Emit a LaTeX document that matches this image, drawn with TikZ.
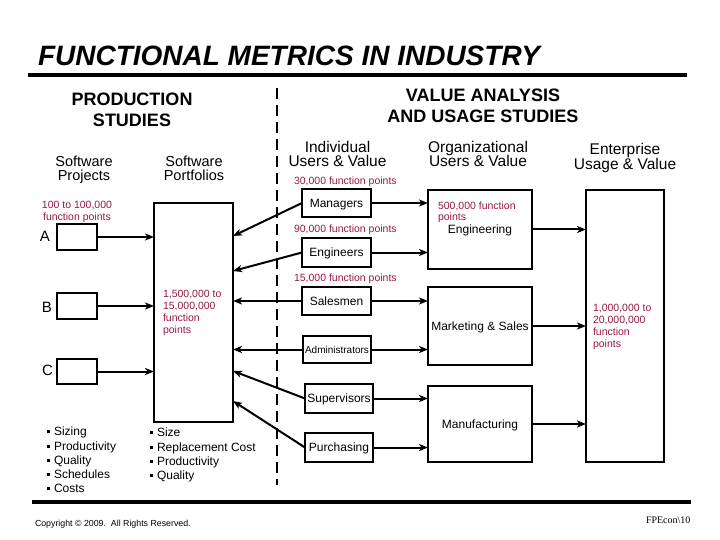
\documentclass[tikz,border=0pt]{standalone}
\usepackage{fontspec}
\setmainfont{Liberation Sans}
\newfontfamily\serifx{Liberation Serif}
\usetikzlibrary{arrows.meta}
\definecolor{fpred}{RGB}{150,25,60}
\newcommand{\fsz}[2]{\fontsize{#1}{#2}\selectfont}
\newcommand{\sqb}{\rule[2.6pt]{3pt}{3pt}\hspace{4pt}}
\begin{document}
\begin{tikzpicture}[x=1pt,y=-1pt,
  every node/.style={inner sep=0pt,outer sep=0pt},
  box/.style={draw=black,line width=2pt},
  boxtxt/.style={font=\fsz{12}{14},text height=8.6pt,text depth=0pt},
  head/.style={font=\fsz{14.5}{13.5},align=center},
  headb/.style={font=\fsz{15.5}{14.5},align=center},
  headbold/.style={font=\fsz{18}{21}\bfseries,align=center},
  redtxt/.style={text=fpred,font=\fsz{10.5}{12}},
  lab/.style={font=\fsz{15}{17}},
  arr/.style={line width=2pt,-{Stealth[length=9pt,width=7pt,inset=2.5pt]}},
  rulebar/.style={line width=4pt},
  divider/.style={line width=2pt,dash pattern=on 11pt off 6pt}
]
\useasboundingbox (0,0) rectangle (720,540);

% title and rules
\node[anchor=base west,font=\fsz{28}{30}\bfseries\itshape] (title) at (38,66) {FUNCTIONAL METRICS IN INDUSTRY};
\draw[rulebar] (28,75.5) -- (687,75.5);
\draw[rulebar] (32,502) -- (691,502);
\draw[divider] (277,88) -- (277,485);

% headings
\node[headbold] (prod) at (132,110) {PRODUCTION\\STUDIES};
\node[headbold] (value) at (483,106) {VALUE ANALYSIS\\AND USAGE STUDIES};
\node[head] (hproj) at (84,170) {Software\\Projects};
\node[head] (hport) at (194,168.5) {Software\\Portfolios};
\node[headb] (hind) at (337.5,154) {Individual\\Users \& Value};
\node[headb] (horg) at (478,154) {Organizational\\Users \& Value};
\node[headb] (hent) at (625,157.8) {Enterprise\\Usage \& Value};

% red annotations
\node[redtxt,align=center] (fpA) at (77,212.3) {100 to 100,000\\function points};
\node[redtxt,anchor=base west] (fpM) at (294,185) {30,000 function points};
\node[redtxt,anchor=base west] (fpN) at (294,233) {90,000 function points};
\node[redtxt,anchor=base west] (fpS) at (294,281) {15,000 function points};
\node[redtxt,align=left,anchor=north west,font=\fsz{10.5}{11}] (fpE) at (438,202.3) {500,000 function\\points};
\node[redtxt,align=left,anchor=north west] (fpP) at (163,289.8) {1,500,000 to\\15,000,000\\function\\points};
\node[redtxt,align=left,anchor=north west,font=\fsz{10.5}{11.9}] (fpX) at (593,304.2) {1,000,000 to\\20,000,000\\function\\points};

% project boxes
\node[box,minimum width=40,minimum height=26] (A) at (77,237) {};
\node[box,minimum width=40,minimum height=26] (B) at (77,306) {};
\node[box,minimum width=40,minimum height=25] (C) at (77,371.5) {};
\node[lab] (lA) at (45,236) {A};
\node[lab] (lB) at (47,307.5) {B};
\node[lab] (lC) at (47.5,370) {C};

% portfolio box
\node[box,minimum width=79,minimum height=219] (P) at (193.5,312.5) {};

% individual users
\node[box,boxtxt,minimum width=69,minimum height=28] (M) at (336.5,203) {Managers};
\node[box,boxtxt,minimum width=69,minimum height=29] (N) at (336.5,252.5) {Engineers};
\node[box,boxtxt,minimum width=69,minimum height=28] (S) at (336.5,301) {Salesmen};
\node[box,font=\fsz{10}{12},text height=7.2pt,text depth=0pt,minimum width=68,minimum height=27] (Ad) at (337,349.5) {Administrators};
\node[box,boxtxt,minimum width=68,minimum height=29] (Su) at (339,398.5) {Supervisors};
\node[box,boxtxt,minimum width=68,minimum height=29] (Pu) at (339,447.5) {Purchasing};

% organizational
\node[box,boxtxt,minimum width=104,minimum height=79] (Eg) at (480,229.5) {Engineering};
\node[box,boxtxt,minimum width=104,minimum height=78] (Mk) at (480,326) {Marketing \& Sales};
\node[box,boxtxt,minimum width=104,minimum height=76] (Mf) at (480,424) {Manufacturing};

% enterprise
\node[box,minimum width=78,minimum height=272] (X) at (625,326) {};

% bullet lists
\node[align=left,anchor=north west,font=\fsz{12}{14.25}] (list1) at (47,427.2)
  {\sqb Sizing\\\sqb Productivity\\\sqb Quality\\\sqb Schedules\\\sqb Costs};
\node[align=left,anchor=north west,font=\fsz{12}{14.3}] (list2) at (150,428.2)
  {\sqb Size\\\sqb Replacement Cost\\\sqb Productivity\\\sqb Quality};

% footer
\node[anchor=base west,font=\fsz{8.8}{10}] (copy) at (35,526) {Copyright © 2009.\ \ All Rights Reserved.};
\node[anchor=base west,font=\serifx\fsz{10}{12}] (ref) at (646,523) {FPEcon\textbackslash 10};

% connectors: projects -> portfolios
\draw[arr] (A.east) -- (A.east -| P.west);
\draw[arr] (B.east) -- (B.east -| P.west);
\draw[arr] (C.east) -- (C.east -| P.west);

% connectors: users -> portfolios
\coordinate (p1) at (0,236);
\coordinate (p2) at (0,271);
\coordinate (p5) at (0,371);
\coordinate (p6) at (0,401);
\draw[arr] (M.west) -- (P.east |- p1);
\draw[arr] (N.west) -- (P.east |- p2);
\draw[arr] (S.west) -- (S.west -| P.east);
\draw[arr] (Ad.west) -- (Ad.west -| P.east);
\draw[arr] (Su.west) -- (P.east |- p5);
\draw[arr] (Pu.west) -- (P.east |- p6);

% users -> organizations
\draw[arr] (M.east) -- (M.east -| Eg.west);
\draw[arr] (N.east) -- (N.east -| Eg.west);
\draw[arr] (S.east) -- (S.east -| Mk.west);
\draw[arr] (Ad.east) -- (Ad.east -| Mk.west);
\draw[arr] (Su.east) -- (Su.east -| Mf.west);
\draw[arr] (Pu.east) -- (Pu.east -| Mf.west);

% organizations -> enterprise
\draw[arr] (Eg.east) -- (Eg.east -| X.west);
\draw[arr] (Mk.east) -- (Mk.east -| X.west);
\draw[arr] (Mf.east) -- (Mf.east -| X.west);
\end{tikzpicture}
\end{document}
